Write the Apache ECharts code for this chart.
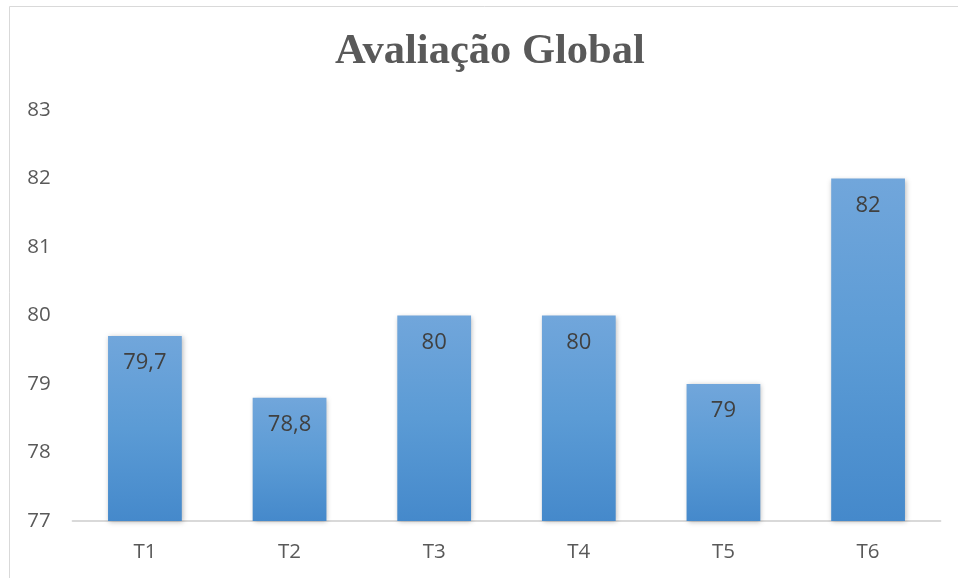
<!DOCTYPE html>
<html>
<head>
<meta charset="utf-8">
<script src="https://cdn.jsdelivr.net/npm/echarts@6/dist/echarts.min.js"></script>
<style>
html,body{margin:0;padding:0;background:#fff;}
#chart{width:958px;height:578px;}
</style>
</head>
<body>
<div id="chart"></div>
<script>
const titleText = 'Avaliação Global';
const categories = ['T1', 'T2', 'T3', 'T4', 'T5', 'T6'];
const values = [79.7, 78.8, 80, 80, 79, 82];
const yMin = 77, yMax = 83, yInterval = 1;

const chart = echarts.init(document.getElementById('chart'), null, {renderer: 'canvas'});
chart.setOption({
  animation: false,
  backgroundColor: '#ffffff',
  graphic: [{
    type: 'rect',
    shape: {x: 9.5, y: 6.5, width: 1000, height: 1000},
    style: {fill: 'none', stroke: '#d9d9d9', lineWidth: 1},
    silent: true
  }],
  title: {
    text: titleText,
    left: 335,
    top: 31,
    padding: 0,
    textStyle: {
      fontFamily: '"Liberation Serif", "Times New Roman", serif',
      fontWeight: 'bold',
      fontSize: 42.5,
      color: '#595959'
    }
  },
  grid: {left: 72.6, right: 17.6, top: 110, bottom: 57, containLabel: false},
  xAxis: {
    type: 'category',
    data: categories,
    axisLine: {show: true, lineStyle: {color: '#d9d9d9', width: 2}},
    axisTick: {show: false},
    axisLabel: {
      margin: 21,
      fontFamily: '"Open Sans", sans-serif',
      fontSize: 20.5,
      color: '#595959'
    },
    splitLine: {show: false}
  },
  yAxis: {
    type: 'value',
    min: yMin,
    max: yMax,
    interval: yInterval,
    axisLine: {show: false},
    axisTick: {show: false},
    splitLine: {show: false},
    axisLabel: {
      margin: 22,
      fontFamily: '"Open Sans", sans-serif',
      fontSize: 20.5,
      color: '#595959',
      formatter: v => String(v)
    }
  },
  series: [{
    type: 'bar',
    data: values,
    barWidth: '51%',
    itemStyle: {
      color: new echarts.graphic.LinearGradient(0, 0, 0, 1, [
        {offset: 0, color: '#71a6db'},
        {offset: 0.5, color: '#5b9bd5'},
        {offset: 1, color: '#4589cb'}
      ], false),
      shadowBlur: 5,
      shadowColor: 'rgba(0,0,0,0.28)',
      shadowOffsetX: 1,
      shadowOffsetY: 1
    },
    label: {
      show: true,
      position: 'insideTop',
      distance: 16,
      fontFamily: '"Open Sans", sans-serif',
      fontSize: 22,
      color: '#404040',
      formatter: p => String(p.value).replace('.', ',')
    }
  }]
});
</script>
</body>
</html>
